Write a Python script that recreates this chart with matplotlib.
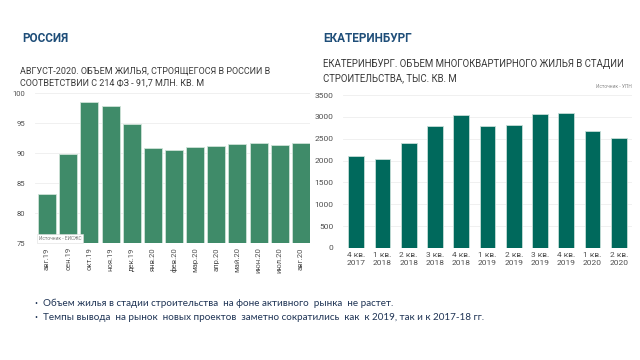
import matplotlib
matplotlib.use("Agg")
import matplotlib.pyplot as plt

plt.rcParams['font.family'] = ['Roboto', 'DejaVu Sans']

# ---------------------- данные ----------------------
ru_months = ["авг.19", "сен.19", "окт.19", "ноя.19", "дек.19", "янв.20", "фев.20",
             "мар.20", "апр.20", "май.20", "июн.20", "июл.20", "авг.20"]
ru_values = [83.2, 89.8, 98.5, 97.9, 94.9, 90.8, 90.5, 91.0, 91.2, 91.5, 91.6, 91.4, 91.7]

ekb_quarters = ["4 кв.\n2017", "1 кв.\n2018", "2 кв.\n2018", "3 кв.\n2018", "4 кв.\n2018",
                "1 кв.\n2019", "2 кв.\n2019", "3 кв.\n2019", "4 кв.\n2019", "1 кв.\n2020",
                "2 кв.\n2020"]
ekb_values = [2115, 2047, 2412, 2785, 3036, 2785, 2808, 3074, 3082, 2686, 2511]

bullets = [
    "Объем жилья в стадии строительства  на фоне активного  рынка  не растет.",
    "Темпы вывода  на рынок  новых проектов  заметно сократились  как  к 2019, так и к 2017-18 гг.",
]

TITLE_COLOR = "#1f4e79"
TEXT_COLOR = "#3a3a3a"
TICK_COLOR = "#505050"
BULLET_COLOR = "#1f3455"

fig = plt.figure(figsize=(6.4, 3.6), dpi=100)
fig.patch.set_facecolor("white")

# ---------------------- заголовки ----------------------
fig.text(22 / 640, 1 - 38 / 360, "РОССИЯ", fontsize=8.5, fontweight="bold",
         color=TITLE_COLOR, va="center")
fig.text(323 / 640, 1 - 38 / 360, "ЕКАТЕРИНБУРГ", fontsize=8.5, fontweight="bold",
         color=TITLE_COLOR, va="center")
fig.text(20 / 640, 1 - 77 / 360,
         "АВГУСТ-2020. ОБЪЕМ ЖИЛЬЯ, СТРОЯЩЕГОСЯ В РОССИИ В\nСООТВЕТСТВИИ С 214 ФЗ - 91,7 МЛН. КВ. М",
         fontsize=6.5, color=TEXT_COLOR, va="center", linespacing=1.45)
fig.text(323 / 640, 1 - 71 / 360,
         "ЕКАТЕРИНБУРГ. ОБЪЕМ МНОГОКВАРТИРНОГО ЖИЛЬЯ В СТАДИИ\nСТРОИТЕЛЬСТВА, ТЫС. КВ. М",
         fontsize=6.9, color=TEXT_COLOR, va="center", linespacing=1.55)


def style_axes(ax, size):
    for s in ax.spines.values():
        s.set_visible(False)
    ax.tick_params(axis="both", length=0, labelsize=size, colors=TICK_COLOR)
    ax.yaxis.grid(True, color="#eeeeee", linewidth=0.6)
    ax.set_axisbelow(True)


# ---------------------- Россия ----------------------
ax1 = fig.add_axes([35 / 640, 1 - 243 / 360, 275 / 640, 150 / 360])
x1 = range(len(ru_months))
ax1.bar(x1, ru_values, width=0.85, color="#3f8b69", edgecolor="#cfe3d8", linewidth=0.6)
ax1.set_ylim(75, 100)
ax1.set_yticks([75, 80, 85, 90, 95, 100])
ax1.set_xlim(-0.57, 12.43)
ax1.set_xticks(list(x1))
ax1.set_xticklabels(ru_months, rotation=90)
style_axes(ax1, 5.5)
ax1.tick_params(axis="y", pad=7)
ax1.tick_params(axis="x", pad=3)
ax1.text(0.015, 0.03, "Источник - ЕИСЖС", transform=ax1.transAxes, fontsize=3.5,
         color="#777777", va="center",
         bbox=dict(facecolor="white", edgecolor="#dddddd", linewidth=0.4, pad=1.2))

# ---------------------- Екатеринбург ----------------------
ax2 = fig.add_axes([343 / 640, 1 - 248 / 360, 289 / 640, 153 / 360])
x2 = range(len(ekb_quarters))
ax2.bar(x2, ekb_values, width=0.6, color="#00695c", edgecolor="#c6ddd8", linewidth=0.6)
ax2.set_ylim(0, 3500)
ax2.set_yticks(range(0, 3501, 500))
ax2.set_xlim(-0.5, 10.5)
ax2.set_xticks(list(x2))
ax2.set_xticklabels(ekb_quarters, linespacing=1.3)
style_axes(ax2, 6)
ax2.tick_params(axis="y", pad=7)
ax2.tick_params(axis="x", pad=3)
fig.text(632 / 640, 1 - 87 / 360, "Источник - УПН", fontsize=3.5, color="#888888",
         ha="right", va="center")

# ---------------------- выводы ----------------------
for i, line in enumerate(bullets):
    y = 1 - (303 + i * 15) / 360
    fig.text(34 / 640, y, "•", fontsize=6.5, color=BULLET_COLOR, va="center")
    fig.text(43 / 640, y, line, fontsize=7.1, color=BULLET_COLOR, va="center",
             family=["Lato", "DejaVu Sans"])

fig.savefig("out.png", dpi=100)
